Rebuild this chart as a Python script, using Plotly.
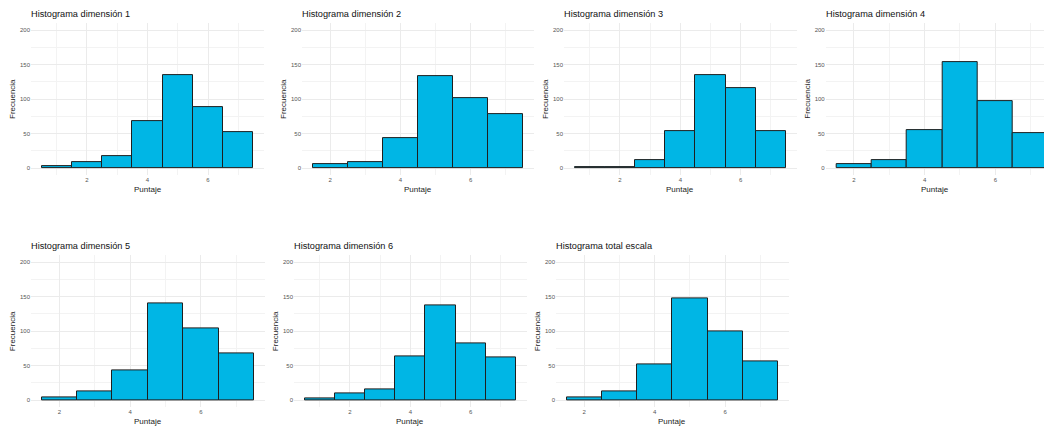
import plotly.graph_objects as go

# ---- data ----
titles = [
    "Histograma dimensión 1",
    "Histograma dimensión 2",
    "Histograma dimensión 3",
    "Histograma dimensión 4",
    "Histograma dimensión 5",
    "Histograma dimensión 6",
    "Histograma total escala",
]
puntaje_d1 = [1, 2, 3, 4, 5, 6, 7]
freq_d1 = [3, 9, 17, 68, 134, 88, 52]
puntaje_d2 = [2, 3, 4, 5, 6, 7]
freq_d2 = [6, 8, 44, 133, 102, 78]
puntaje_d3 = [1, 2, 3, 4, 5, 6, 7]
freq_d3 = [1, 2, 11, 53, 135, 116, 53]
puntaje_d4 = [2, 3, 4, 5, 6, 7]
freq_d4 = [5, 11, 55, 153, 97, 51]
puntaje_d5 = [2, 3, 4, 5, 6, 7]
freq_d5 = [4, 12, 43, 140, 104, 68]
puntaje_d6 = [1, 2, 3, 4, 5, 6, 7]
freq_d6 = [2, 9, 15, 64, 137, 82, 62]
puntaje_tot = [2, 3, 4, 5, 6, 7]
freq_tot = [4, 12, 51, 148, 100, 56]

y_ticks = [0, 50, 100, 150, 200]
x_ticks = [2, 4, 6]

series = [
    (puntaje_d1, freq_d1), (puntaje_d2, freq_d2), (puntaje_d3, freq_d3),
    (puntaje_d4, freq_d4), (puntaje_d5, freq_d5), (puntaje_d6, freq_d6),
    (puntaje_tot, freq_tot),
]

W, H = 1044, 426
# pixel layout of each panel: (left, right, top, bottom)
top_row = (23.1, 174.9)
bot_row = (255.4, 406.9)
panels_px = [
    (31, 264, *top_row),
    (302, 534, *top_row),
    (564, 796.6, *top_row),
    (825.7, 1044, *top_row),
    (31, 264.7, *bot_row),
    (294, 526.6, *bot_row),
    (556, 788.7, *bot_row),
]

FONT = "Liberation Sans, Arial, sans-serif"
fig = go.Figure()
annotations = []

for i, ((xs, ys), (l, r, t, b), title) in enumerate(zip(series, panels_px, titles)):
    n = i + 1
    xa = "x" if n == 1 else f"x{n}"
    ya = "y" if n == 1 else f"y{n}"
    fig.add_trace(go.Bar(
        x=xs, y=ys, width=1, xaxis=xa, yaxis=ya,
        marker=dict(color="#00B6E5", line=dict(color="#1f1f1f", width=1)),
        showlegend=False,
    ))
    lo = min(xs) - 0.5
    hi = max(xs) + 0.5
    span = hi - lo
    xr = [lo - 0.05 * span, hi + 0.05 * span]
    if i == 3:
        # panel is cut by the right image border
        xr = [xr[0], 7.378]
    xdom = [l / W, r / W]
    ydom = [(H - b) / H, (H - t) / H]
    grid = dict(showgrid=True, gridcolor="#EBEBEB", gridwidth=1, zeroline=False,
                showline=False, ticks="",
                tickfont=dict(family=FONT, size=6, color="#555555"))
    fig.update_layout(**{
        ("xaxis" if n == 1 else f"xaxis{n}"): dict(
            domain=xdom, range=xr, anchor=ya, tickvals=x_ticks,
            minor=dict(tickvals=[1, 3, 5, 7], showgrid=True, gridcolor="#F3F3F3", gridwidth=0.6),
            **grid),
        ("yaxis" if n == 1 else f"yaxis{n}"): dict(
            domain=ydom, range=[-10, 210], anchor=xa, tickvals=y_ticks,
            minor=dict(tickvals=[25, 75, 125, 175], showgrid=True, gridcolor="#F3F3F3", gridwidth=0.6),
            **grid),
    })
    # title
    annotations.append(dict(
        text=title, x=(l - 2) / W, y=(H - (t - 9)) / H, xref="paper", yref="paper",
        xanchor="left", yanchor="middle", showarrow=False,
        font=dict(family=FONT, size=9.2, color="#111111"),
    ))
    # x title
    annotations.append(dict(
        text="Puntaje", x=((l + min(r, l + 233)) / 2) / W, y=(H - (b + 14.5)) / H,
        xref="paper", yref="paper", xanchor="center", yanchor="middle", showarrow=False,
        font=dict(family=FONT, size=8, color="#222222"),
    ))
    # y title
    annotations.append(dict(
        text="Frecuencia", x=(l - 19) / W, y=(H - (t + b) / 2) / H,
        xref="paper", yref="paper", xanchor="center", yanchor="middle", showarrow=False,
        textangle=-90, font=dict(family=FONT, size=8, color="#222222"),
    ))

fig.update_layout(
    width=W, height=H, margin=dict(l=0, r=0, t=0, b=0),
    paper_bgcolor="white", plot_bgcolor="white",
    bargap=0, annotations=annotations,
)
fig.write_html(
    "out.html",
    config={"displayModeBar": False},
    post_script="document.body.style.margin='0px';document.body.style.padding='0px';document.body.style.overflow='hidden';",
)
